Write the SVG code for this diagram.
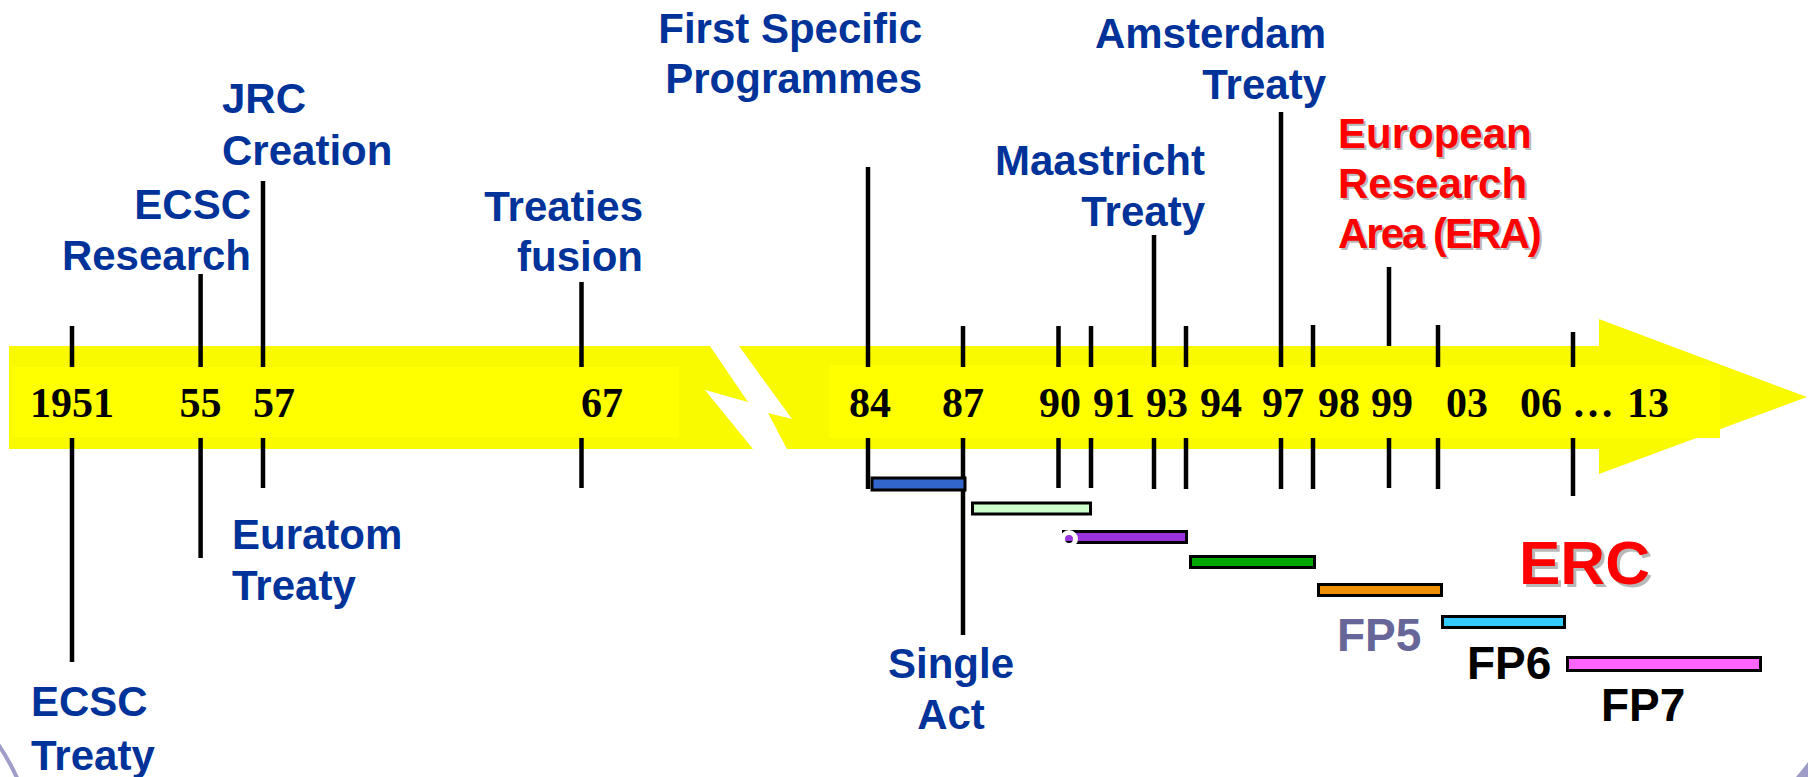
<svg xmlns="http://www.w3.org/2000/svg" width="1808" height="777" viewBox="0 0 1808 777">
<style>
.band{fill:#f9f900}
.box{fill:#ffff00}
.yr{font-family:"Liberation Serif","Times New Roman",serif;font-weight:bold;font-size:42px;fill:#000;text-anchor:middle}
.lbl{font-family:"Liberation Sans",Arial,sans-serif;font-weight:bold;font-size:42px;fill:#003399}
.r{text-anchor:end}
.m{text-anchor:middle}
.red{fill:#ff0000}
.sh{fill:#b8b8b8}
.tight{letter-spacing:-2px}
.fp{font-family:"Liberation Sans",Arial,sans-serif;font-weight:bold;font-size:46px}
.tick line{stroke:#000;stroke-width:4.5}
.bar{stroke:#000;stroke-width:3}
</style>
<rect width="1808" height="777" fill="#ffffff"/>
<g id="timeline-arrow">
<polygon class="band" points="9,346 710,346 748,402 705,390 753,449 9,449"/>
<polygon class="band" points="739,346 1599,346 1599,319 1807,397 1599,474 1599,449 787,449 768,413 792,419"/>
<rect class="box" x="12" y="367" width="667" height="70"/>
<rect class="box" x="829" y="365" width="891" height="73"/>
</g>
<g id="connectors" class="tick">
<line x1="72" y1="326" x2="72" y2="367"/><line x1="72" y1="438" x2="72" y2="662"/>
<line x1="200.6" y1="274" x2="200.6" y2="367"/><line x1="200.6" y1="438" x2="200.6" y2="558"/>
<line x1="263" y1="181" x2="263" y2="367"/><line x1="263" y1="438" x2="263" y2="488"/>
<line x1="581.5" y1="282" x2="581.5" y2="367"/><line x1="581.5" y1="438" x2="581.5" y2="488"/>
<line x1="868" y1="167" x2="868" y2="367"/><line x1="868" y1="438" x2="868" y2="489"/>
<line x1="963" y1="326" x2="963" y2="367"/><line x1="963" y1="438" x2="963" y2="635"/>
<line x1="1058.5" y1="326" x2="1058.5" y2="367"/><line x1="1058.5" y1="438" x2="1058.5" y2="488"/>
<line x1="1091" y1="326" x2="1091" y2="367"/><line x1="1091" y1="438" x2="1091" y2="488"/>
<line x1="1154" y1="235" x2="1154" y2="367"/><line x1="1154" y1="438" x2="1154" y2="489"/>
<line x1="1186" y1="326" x2="1186" y2="367"/><line x1="1186" y1="438" x2="1186" y2="489"/>
<line x1="1281" y1="112" x2="1281" y2="367"/><line x1="1281" y1="438" x2="1281" y2="489"/>
<line x1="1313" y1="325" x2="1313" y2="367"/><line x1="1313" y1="438" x2="1313" y2="489"/>
<line x1="1389" y1="267" x2="1389" y2="346"/><line x1="1389" y1="438" x2="1389" y2="488"/>
<line x1="1438" y1="325" x2="1438" y2="367"/><line x1="1438" y1="438" x2="1438" y2="489"/>
<line x1="1573" y1="332" x2="1573" y2="367"/><line x1="1573" y1="438" x2="1573" y2="496"/>
</g>
<g id="years">
<text class="yr" x="72" y="417">1951</text>
<text class="yr" x="200.6" y="417">55</text>
<text class="yr" x="274" y="417">57</text>
<text class="yr" x="602" y="417">67</text>
<text class="yr" x="870" y="417">84</text>
<text class="yr" x="963" y="417">87</text>
<text class="yr" x="1060" y="417">90</text>
<text class="yr" x="1114" y="417">91</text>
<text class="yr" x="1167" y="417">93</text>
<text class="yr" x="1221" y="417">94</text>
<text class="yr" x="1283" y="417">97</text>
<text class="yr" x="1339" y="417">98</text>
<text class="yr" x="1392" y="417">99</text>
<text class="yr" x="1467" y="417">03</text>
<text class="yr" x="1541" y="417">06</text>
<text class="yr" x="1593" y="417">…</text>
<text class="yr" x="1648" y="417">13</text>
</g>
<g id="programme-bars">
<rect class="bar" x="872" y="478" width="93" height="12" fill="#3366cc"/>
<rect class="bar" x="972.5" y="503" width="118" height="11" fill="#ccffcc"/>
<rect class="bar" x="1063.5" y="531.5" width="123" height="11" fill="#9933dd"/>
<circle cx="1069" cy="539" r="6.5" fill="none" stroke="#ffffff" stroke-width="5"/>
<rect class="bar" x="1190.5" y="556.5" width="124" height="11" fill="#00a800"/>
<rect class="bar" x="1318.5" y="584.5" width="123" height="11" fill="#ee9000"/>
<rect class="bar" x="1442.5" y="616.5" width="122" height="11" fill="#33ccff"/>
<rect class="bar" x="1567.5" y="657.5" width="193" height="13" fill="#ff66ff"/>
</g>
<g id="ecsc-treaty"><text class="lbl" x="31" y="716">ECSC</text><text class="lbl" x="31" y="770">Treaty</text></g>
<g id="ecsc-research"><text class="lbl r" x="251" y="219">ECSC</text><text class="lbl r" x="251" y="270">Research</text></g>
<g id="jrc-creation"><text class="lbl" x="222" y="113">JRC</text><text class="lbl" x="222" y="165">Creation</text></g>
<g id="euratom-treaty"><text class="lbl" x="232" y="549">Euratom</text><text class="lbl" x="232" y="600">Treaty</text></g>
<g id="treaties-fusion"><text class="lbl r" x="643" y="221">Treaties</text><text class="lbl r" x="643" y="271">fusion</text></g>
<g id="first-specific"><text class="lbl r" x="922" y="43">First Specific</text><text class="lbl r" x="922" y="93">Programmes</text></g>
<g id="single-act"><text class="lbl m" x="951" y="678">Single</text><text class="lbl m" x="951" y="729">Act</text></g>
<g id="maastricht"><text class="lbl r" x="1205" y="175">Maastricht</text><text class="lbl r" x="1205" y="226">Treaty</text></g>
<g id="amsterdam"><text class="lbl r" x="1326" y="48">Amsterdam</text><text class="lbl r" x="1326" y="99">Treaty</text></g>
<g id="era">
<text class="lbl sh" x="1340" y="150">European</text><text class="lbl sh" x="1340" y="200">Research</text><text class="lbl sh tight" x="1340" y="250">Area (ERA)</text>
<text class="lbl red" x="1338" y="148">European</text><text class="lbl red" x="1338" y="198">Research</text><text class="lbl red tight" x="1338" y="248">Area (ERA)</text>
</g>
<g id="erc">
<text class="fp sh" x="1522" y="587" style="font-size:62px">ERC</text>
<text class="fp red" x="1519" y="584" style="font-size:62px">ERC</text>
</g>
<g id="fp5"><text class="fp" x="1337" y="651" fill="#666699">FP5</text></g>
<g id="fp6"><text class="fp" x="1467" y="679" fill="#000000">FP6</text></g>
<g id="fp7"><text class="fp" x="1601" y="721" fill="#000000">FP7</text></g>
<g id="decoration">
<path d="M-2,744 Q9,760 18,780" fill="none" stroke="#9d9dc8" stroke-width="4"/>
<path d="M1808,762 Q1802,770 1796,777 L1808,777 Z" fill="#9d9dc8"/>
</g>
</svg>
